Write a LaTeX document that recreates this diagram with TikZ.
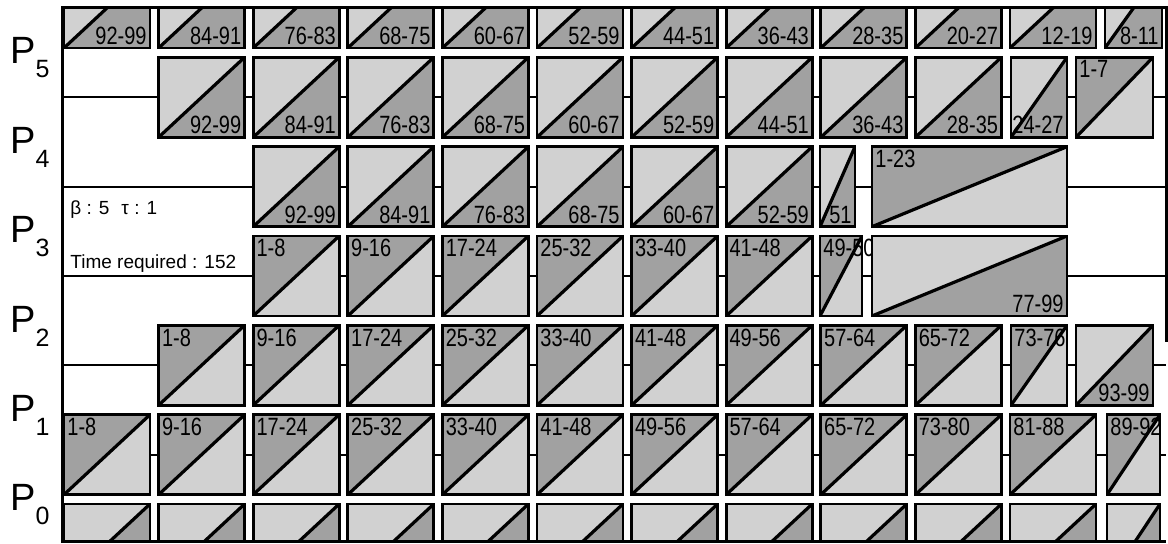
\documentclass[tikz,border=0pt]{standalone}
\usepackage{fontspec}
\setmainfont{Liberation Sans}
\newfontfamily\tagfont[FakeStretch=0.8]{Liberation Sans}
\usetikzlibrary{positioning}

\begin{document}
\begin{tikzpicture}[
    x=0.5pt, y=0.5pt,
    % Define styles
    msg/.style={rectangle, draw, line width=1.4pt, fill=black!18, minimum width=43pt, minimum height=40pt, inner sep=0pt, outer sep=0pt},
    down/.style={msg, path picture={
        \fill[black!37] (path picture bounding box.south west) -- (path picture bounding box.north east) -- (path picture bounding box.south east) -- cycle;
        \draw[line width=1.6pt] (path picture bounding box.south west) -- (path picture bounding box.north east);},
      label={[tag, anchor=south east]south east:#1}},
    up/.style={msg, path picture={
        \fill[black!37] (path picture bounding box.south west) -- (path picture bounding box.north east) -- (path picture bounding box.north west) -- cycle;
        \draw[line width=1.6pt] (path picture bounding box.south west) -- (path picture bounding box.north east);},
      label={[tag, anchor=north west]north west:#1}},
    tag/.style={font=\tagfont\fontsize{12.5}{12.5}\selectfont, inner sep=1.5pt},
    proc/.style={font=\fontsize{19}{19}\selectfont, inner sep=0pt, anchor=base west},
    note/.style={font=\fontsize{9.5}{10}\selectfont, inner sep=0pt, anchor=base west},
    base/.style={line width=1.1pt},
    frame/.style={line width=1.5pt}
]
    \useasboundingbox (0,0) rectangle (1168,544);

    % --- PROCESSOR NAMES ---
    \foreach \p [count=\r from 0] in {5,4,3,2,1,0}
        \node[proc] (p\p) at (10,{480-89.4*\r}) {P\raisebox{-7pt}{\fontsize{12.5}{12.5}\selectfont\p}};

    % --- TIME LINES ---
    \foreach \r/\yy in {1/446.7, 2/357.3, 3/268, 4/178.7, 5/89.3} {
        \coordinate (w\r) at (62,\yy);
        \coordinate (e\r) at (1166,\yy);
        \draw[base] (w\r) -- (e\r);
    }

    \node[note] (params) at (70,329) {β : 5\hspace{6pt}τ : 1};
    \node[note] (time) at (70,275) {Time required : 152};

    \begin{scope}
    \clip (62,2) rectangle (1166,536);

    % --- ROW 0 ---
    \foreach \t [count=\k from 0] in {92-99,84-91,76-83,68-75,60-67,52-59,44-51,36-43,28-35,20-27,12-19}
        \node[down=\t] (a\k) at ({107+94.6*\k},536) {};
    \node[down=8-11, minimum width=28.5pt] (a11) at (1133.5,536) {};

    % --- ROW 1 ---
    \foreach \t [count=\k from 1] in {92-99,84-91,76-83,68-75,60-67,52-59,44-51,36-43,28-35}
        \node[down=\t] (b\k) at ({107+94.6*\k},446.7) {};
    \node[down=24-27, minimum width=28pt] (b10) at (1039,446.7) {};
    \node[up=1-7, minimum width=38.5pt] (b11) at (1114.5,446.7) {};

    % --- ROW 2 ---
    \foreach \t [count=\k from 2] in {92-99,84-91,76-83,68-75,60-67,52-59}
        \node[down=\t] (c\k) at ({107+94.6*\k},357.3) {};
    \node[down=51, minimum width=17.5pt] (c8) at (837.5,357.3) {};
    \node[up=1-23, minimum width=97.5pt] (c9) at (969.5,357.3) {};

    % --- ROW 3 ---
    \foreach \t [count=\k from 2] in {1-8,9-16,17-24,25-32,33-40,41-48}
        \node[up=\t] (d\k) at ({107+94.6*\k},268) {};
    \node[up=49-50, minimum width=21pt] (d8) at (841,268) {};
    \node[down=77-99, minimum width=97.5pt] (d9) at (969.5,268) {};

    % --- ROW 4 ---
    \foreach \t [count=\k from 1] in {1-8,9-16,17-24,25-32,33-40,41-48,49-56,57-64,65-72}
        \node[up=\t] (e\k) at ({107+94.6*\k},178.7) {};
    \node[up=73-76, minimum width=28pt] (e10) at (1039,178.7) {};
    \node[down=93-99, minimum width=38.5pt] (e11) at (1114.5,178.7) {};

    % --- ROW 5 ---
    \foreach \t [count=\k from 0] in {1-8,9-16,17-24,25-32,33-40,41-48,49-56,57-64,65-72,73-80,81-88}
        \node[up=\t] (f\k) at ({107+94.6*\k},89.3) {};
    \node[up=89-92, minimum width=26.5pt] (f11) at (1133.5,89.3) {};

    % --- ROW 6 ---
    \foreach \k in {0,...,10}
        \node[down={}] (g\k) at ({107+94.6*\k},0) {};
    \node[down={}, minimum width=26.5pt] (g11) at (1133.5,0) {};
    \end{scope}

    % --- FRAME ---
    \coordinate (ne) at (1166,536);
    \coordinate (nw) at (62,536);
    \coordinate (sw) at (62,2);
    \coordinate (se) at (1166,2);
    \coordinate (rend) at (1166,202);
    \draw[frame] (rend) -- (ne) -- (nw) -- (sw) -- (se);

\end{tikzpicture}
\end{document}
